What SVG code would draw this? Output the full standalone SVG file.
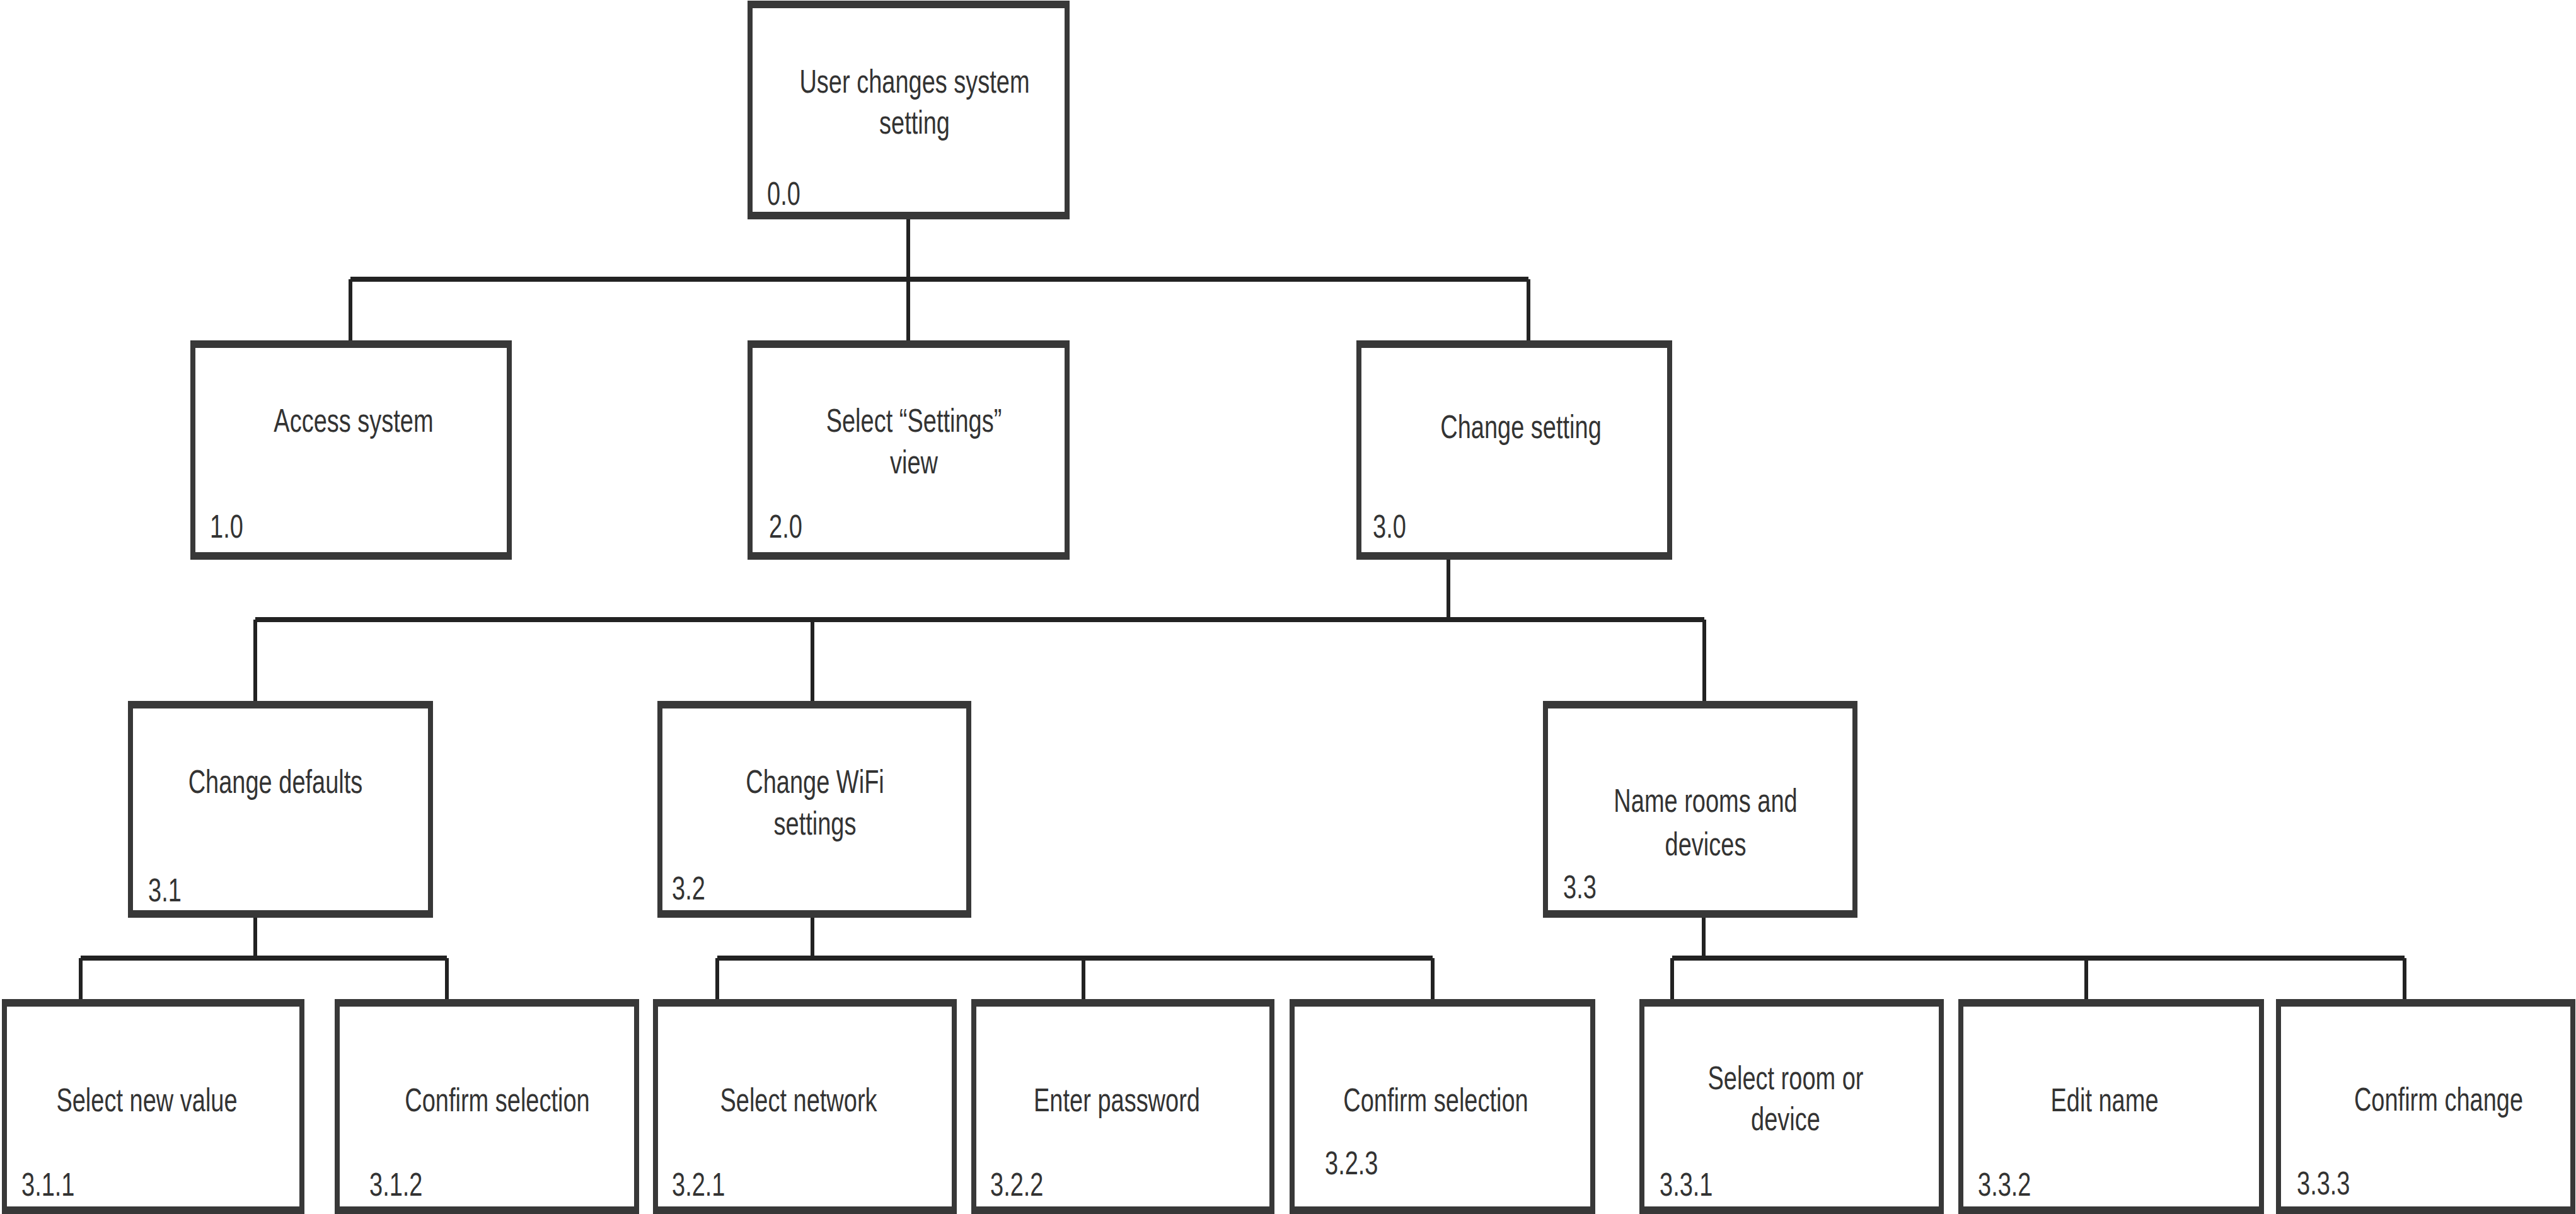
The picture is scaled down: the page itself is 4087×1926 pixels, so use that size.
<svg xmlns="http://www.w3.org/2000/svg" width="4087" height="1926" viewBox="0 0 4087 1926">
<style>
.frame{fill:#383838}
.inner{fill:#ffffff}
.t{font-family:"Liberation Sans",Arial,sans-serif;font-size:38px;fill:#333333}
.c{text-anchor:middle}
.h{stroke:#222222;stroke-width:8;fill:none}
.v{stroke:#222222;stroke-width:6;fill:none}
</style>
<rect x="0" y="0" width="4087" height="1926" fill="#ffffff"/>
<g id="connectors">
  <path class="v" d="M1441 340V443M556 443V545M1441 443V545M2425 443V545"/>
  <path class="h" d="M556 443H2425"/>
  <path class="v" d="M2298 880V983M405 983V1117M1289 983V1117M2704 983V1117"/>
  <path class="h" d="M405 983H2704"/>
  <path class="v" d="M405 1450V1520M128 1520V1590M709 1520V1590"/>
  <path class="h" d="M128 1520H709"/>
  <path class="v" d="M1289 1450V1520M1138 1520V1590M1719 1520V1590M2273 1520V1590"/>
  <path class="h" d="M1138 1520H2273"/>
  <path class="v" d="M2703 1450V1520M2653 1520V1590M3310 1520V1590M3815 1520V1590"/>
  <path class="h" d="M2653 1520H3815"/>
</g>
<g id="n0">
  <rect class="frame" x="1186" y="1" width="511" height="347"/>
  <rect class="inner" x="1194" y="13" width="495" height="323"/>
  <text class="t c" transform="translate(1451,147) scale(1,1.35)"><tspan x="0" y="0">User changes system</tspan><tspan x="0" dy="48">setting</tspan></text>
  <text class="t" transform="translate(1217,325) scale(1,1.35)">0.0</text>
</g>
<g id="n1">
  <rect class="frame" x="302" y="540" width="510" height="348"/>
  <rect class="inner" x="310" y="552" width="494" height="324"/>
  <text class="t c" transform="translate(561,685) scale(1,1.35)">Access system</text>
  <text class="t" transform="translate(333,853) scale(1,1.35)">1.0</text>
</g>
<g id="n2">
  <rect class="frame" x="1186" y="540" width="511" height="348"/>
  <rect class="inner" x="1194" y="552" width="495" height="324"/>
  <text class="t c" transform="translate(1450,685) scale(1,1.35)"><tspan x="0" y="0">Select “Settings”</tspan><tspan x="0" dy="49">view</tspan></text>
  <text class="t" transform="translate(1220,853) scale(1,1.35)">2.0</text>
</g>
<g id="n3">
  <rect class="frame" x="2152" y="540" width="501" height="348"/>
  <rect class="inner" x="2160" y="552" width="485" height="324"/>
  <text class="t c" transform="translate(2413,695) scale(1,1.35)">Change setting</text>
  <text class="t" transform="translate(2178,853) scale(1,1.35)">3.0</text>
</g>
<g id="n31">
  <rect class="frame" x="203" y="1112" width="484" height="344"/>
  <rect class="inner" x="211" y="1124" width="468" height="320"/>
  <text class="t c" transform="translate(437,1258) scale(1,1.35)">Change defaults</text>
  <text class="t" transform="translate(235,1430) scale(1,1.35)">3.1</text>
</g>
<g id="n32">
  <rect class="frame" x="1043" y="1112" width="498" height="344"/>
  <rect class="inner" x="1051" y="1124" width="482" height="320"/>
  <text class="t c" transform="translate(1293,1258) scale(1,1.35)"><tspan x="0" y="0">Change WiFi</tspan><tspan x="0" dy="49">settings</tspan></text>
  <text class="t" transform="translate(1066,1427) scale(1,1.35)">3.2</text>
</g>
<g id="n33">
  <rect class="frame" x="2448" y="1112" width="499" height="344"/>
  <rect class="inner" x="2456" y="1124" width="483" height="320"/>
  <text class="t c" transform="translate(2706,1288) scale(1,1.35)"><tspan x="0" y="0">Name rooms and</tspan><tspan x="0" dy="51">devices</tspan></text>
  <text class="t" transform="translate(2480,1425) scale(1,1.35)">3.3</text>
</g>
<g id="n311">
  <rect class="frame" x="3" y="1585" width="480" height="341"/>
  <rect class="inner" x="11" y="1597" width="464" height="317"/>
  <text class="t c" transform="translate(233,1763) scale(1,1.35)">Select new value</text>
  <text class="t" transform="translate(34,1897) scale(1,1.35)">3.1.1</text>
</g>
<g id="n312">
  <rect class="frame" x="531" y="1585" width="483" height="341"/>
  <rect class="inner" x="539" y="1597" width="467" height="317"/>
  <text class="t c" transform="translate(789,1763) scale(1,1.35)">Confirm selection</text>
  <text class="t" transform="translate(586,1897) scale(1,1.35)">3.1.2</text>
</g>
<g id="n321">
  <rect class="frame" x="1036" y="1585" width="482" height="341"/>
  <rect class="inner" x="1044" y="1597" width="466" height="317"/>
  <text class="t c" transform="translate(1267,1763) scale(1,1.35)">Select network</text>
  <text class="t" transform="translate(1066,1897) scale(1,1.35)">3.2.1</text>
</g>
<g id="n322">
  <rect class="frame" x="1541" y="1585" width="481" height="341"/>
  <rect class="inner" x="1549" y="1597" width="465" height="317"/>
  <text class="t c" transform="translate(1772,1763) scale(1,1.35)">Enter password</text>
  <text class="t" transform="translate(1571,1897) scale(1,1.35)">3.2.2</text>
</g>
<g id="n323">
  <rect class="frame" x="2046" y="1585" width="485" height="341"/>
  <rect class="inner" x="2054" y="1597" width="469" height="317"/>
  <text class="t c" transform="translate(2278,1763) scale(1,1.35)">Confirm selection</text>
  <text class="t" transform="translate(2102,1863) scale(1,1.35)">3.2.3</text>
</g>
<g id="n331">
  <rect class="frame" x="2601" y="1585" width="483" height="341"/>
  <rect class="inner" x="2609" y="1597" width="467" height="317"/>
  <text class="t c" transform="translate(2833,1728) scale(1,1.35)"><tspan x="0" y="0">Select room or</tspan><tspan x="0" dy="48">device</tspan></text>
  <text class="t" transform="translate(2633,1897) scale(1,1.35)">3.3.1</text>
</g>
<g id="n332">
  <rect class="frame" x="3107" y="1585" width="485" height="341"/>
  <rect class="inner" x="3115" y="1597" width="469" height="317"/>
  <text class="t c" transform="translate(3339,1763) scale(1,1.35)">Edit name</text>
  <text class="t" transform="translate(3138,1897) scale(1,1.35)">3.3.2</text>
</g>
<g id="n333">
  <rect class="frame" x="3611" y="1585" width="475" height="341"/>
  <rect class="inner" x="3619" y="1597" width="459" height="317"/>
  <text class="t c" transform="translate(3869,1762) scale(1,1.35)">Confirm change</text>
  <text class="t" transform="translate(3644,1895) scale(1,1.35)">3.3.3</text>
</g>
</svg>
